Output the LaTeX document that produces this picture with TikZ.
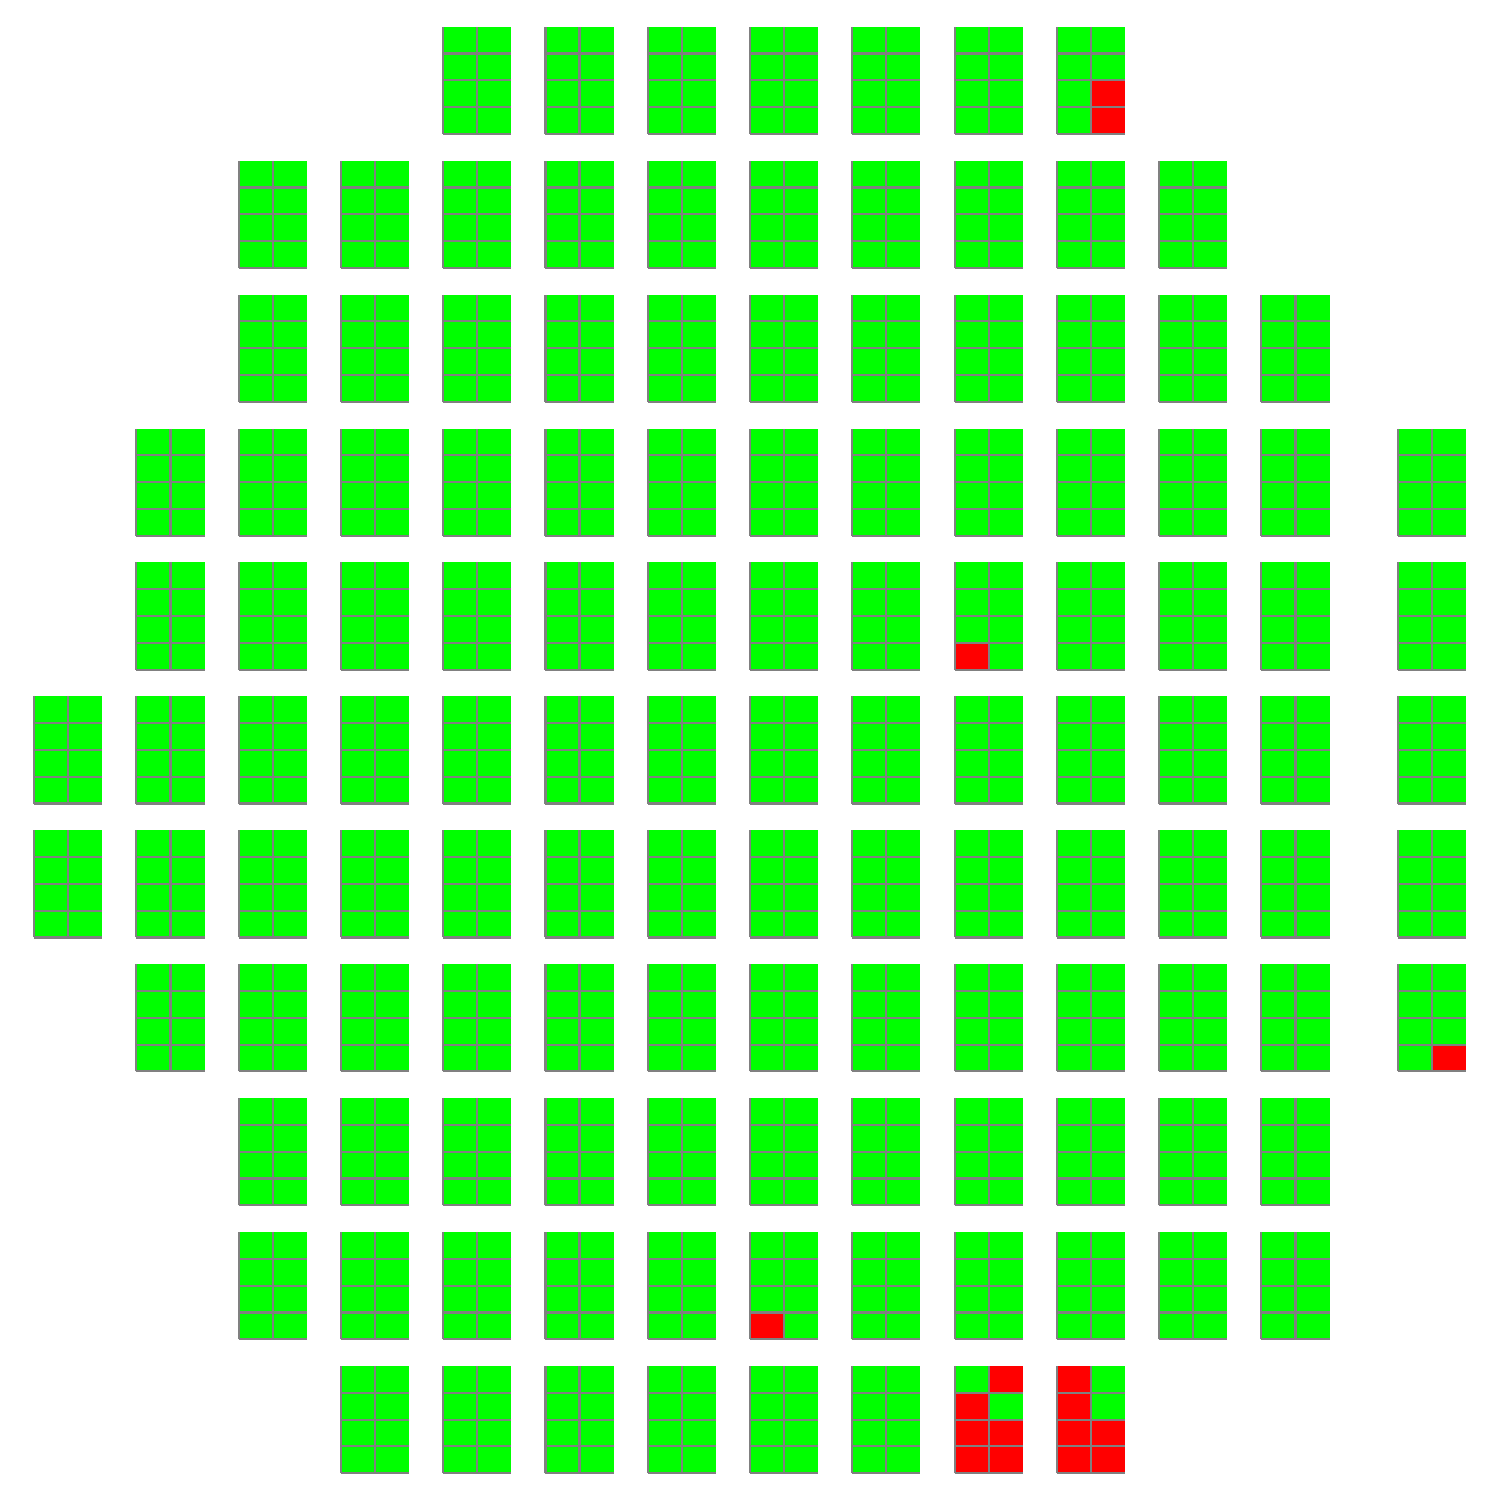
\documentclass[tikz,border=0pt]{standalone}
\usetikzlibrary{calc}
\definecolor{cellgreen}{RGB}{0,255,0}
\definecolor{cellred}{RGB}{255,0,0}
\definecolor{gridgray}{RGB}{128,128,128}

% rows of panels: row / first column / last column
\def\panelrows{0/4/10, 1/2/11, 2/2/12, 3/1/12, 4/1/12, 5/0/12, 6/0/12, 7/1/12, 8/2/12, 9/2/12, 10/3/10}

% cell borders of one panel (left and bottom of each cell)
\newcommand{\panelgrid}[2]{%
  \foreach \i in {0,1} \draw[cellline] ({#1+\i},{#2}) -- +(0,4);
  \foreach \k in {0,...,3} \draw[cellline] ({#1},{#2+\k}) -- +(2,0);}

\begin{document}
\begin{tikzpicture}[
    x=0.34091cm, y=0.26786cm,
    okcell/.style={fill=cellgreen},
    badcell/.style={fill=cellred},
    cellline/.style={draw=gridgray, line width=0.6pt},
  ]
  \useasboundingbox (0,0) rectangle (44,56);

  % Panels
  \foreach \r/\a/\b in \panelrows
    \foreach \c in {\a,...,\b}
      \fill[okcell] ({1+3*\c},{51-5*\r}) rectangle +(2,4);
  \foreach \r in {3,...,7}
    \fill[okcell] (41,{51-5*\r}) rectangle +(2,4);

  % Failed cells: panel x / panel row / cell column / cell row
  \foreach \px/\r/\i/\k in {31/0/1/2, 31/0/1/3, 28/4/0/3, 41/7/1/3, 22/9/0/3,
      28/10/1/0, 28/10/0/1, 28/10/0/2, 28/10/1/2, 28/10/0/3, 28/10/1/3,
      31/10/0/0, 31/10/0/1, 31/10/0/2, 31/10/1/2, 31/10/0/3, 31/10/1/3}
    \fill[badcell] ({\px+\i},{51-5*\r+3-\k}) rectangle +(1,1);

  % Cell borders
  \foreach \r/\a/\b in \panelrows
    \foreach \c in {\a,...,\b}
      \panelgrid{1+3*\c}{51-5*\r};
  \foreach \r in {3,...,7}
    \panelgrid{41}{51-5*\r};

\end{tikzpicture}
\end{document}
